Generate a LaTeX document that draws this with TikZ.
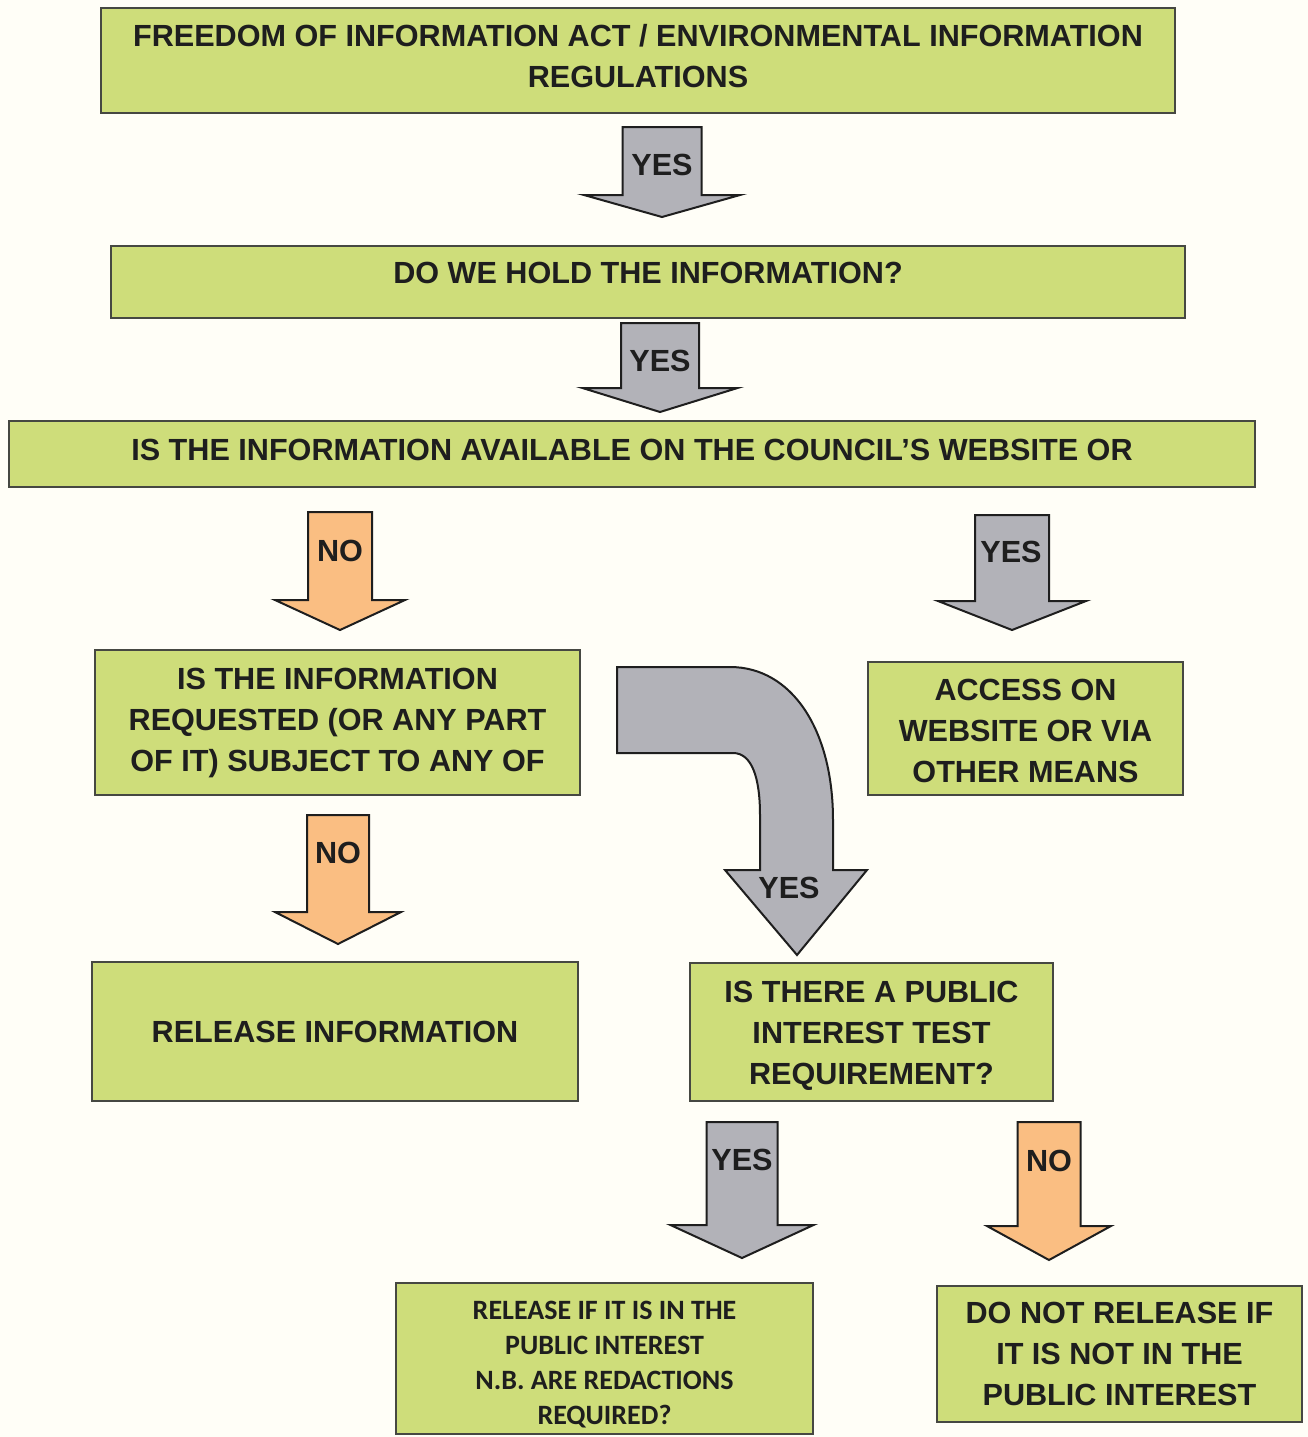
\documentclass[tikz,border=0pt]{standalone}
\usepackage{fontspec}
\setmainfont{Liberation Sans}
\newfontfamily\narrowfont{Carlito}
\usepackage{tikz}
\definecolor{boxgreen}{RGB}{206,221,122}
\definecolor{arrgray}{RGB}{178,178,184}
\definecolor{arrorange}{RGB}{250,190,130}
\definecolor{edgegray}{RGB}{70,72,66}
\definecolor{inkblack}{RGB}{30,30,30}
\definecolor{papercream}{RGB}{255,254,247}

% block arrow: style, x centre, top, shaft half width, head base, head half width, tip
\newcommand{\blockarrow}[7]{%
  \draw[#1] ({#2-#4},#3) -- ({#2+#4},#3) -- ({#2+#4},#5) -- ({#2+#6},#5)
    -- (#2,#7) -- ({#2-#6},#5) -- ({#2-#4},#5) -- cycle;}
% invisible spacers to lift or drop a text inside its box
\newcommand{\liftby}[1]{\rule[-#1]{0pt}{#1}}
\newcommand{\dropby}[1]{\rule{0pt}{#1}}

\begin{document}
\begin{tikzpicture}[x=0.5pt, y=-0.5pt,
    box/.style={rectangle, draw=edgegray, fill=boxgreen, line width=1.2pt, inner sep=0pt,
        align=center, text=inkblack, font=\fontsize{15.3}{20.5}\selectfont\bfseries},
    yesarr/.style={draw=inkblack, fill=arrgray, line width=1pt},
    noarr/.style={draw=inkblack, fill=arrorange, line width=1pt},
    lab/.style={inner sep=0pt, text=inkblack, font=\fontsize{15.3}{18}\selectfont\bfseries}
]
\useasboundingbox (0,0) rectangle (1308,1437);
\fill[papercream] (0,0) rectangle (1308,1437);

\node[box, minimum width=537pt, minimum height=52.5pt] (foi) at (638,60.5)
    {FREEDOM OF INFORMATION ACT / ENVIRONMENTAL INFORMATION\\REGULATIONS\liftby{5pt}};
\node[box, minimum width=537pt, minimum height=36pt] (hold) at (648,282)
    {DO WE HOLD THE INFORMATION?\liftby{9pt}};
\node[box, minimum width=623pt, minimum height=33pt] (web) at (632,454)
    {IS THE INFORMATION AVAILABLE ON THE COUNCIL’S WEBSITE OR\liftby{4pt}};
\node[box, minimum width=242.5pt, minimum height=72.5pt] (subj) at (337.5,722.5)
    {IS THE INFORMATION\\REQUESTED (OR ANY PART\\OF IT) SUBJECT TO ANY OF};
\node[box, minimum width=157.5pt, minimum height=66.5pt] (access) at (1025.5,728.5)
    {\dropby{13pt}ACCESS ON\\WEBSITE OR VIA\\OTHER MEANS};
\node[box, minimum width=243pt, minimum height=69.5pt] (release) at (335,1031.5)
    {RELEASE INFORMATION};
\node[box, minimum width=181.5pt, minimum height=69pt] (pit) at (871.5,1032)
    {\dropby{14pt}IS THERE A PUBLIC\\INTEREST TEST\\REQUIREMENT?};
\node[box, minimum width=208.5pt, minimum height=75.5pt,
    font=\narrowfont\fontsize{14}{17.5}\selectfont\bfseries] (relif) at (604.5,1358.5)
    {\dropby{15.5pt}RELEASE IF IT IS IN THE\\PUBLIC INTEREST\\N.B. ARE REDACTIONS\\REQUIRED?};
\node[box, minimum width=182.5pt, minimum height=68pt] (donot) at (1119.5,1354)
    {DO NOT RELEASE IF\\IT IS NOT IN THE\\PUBLIC INTEREST};

% straight block arrows
\blockarrow{yesarr}{662}{127}{39.5}{195}{78}{217}
\node[lab] (yes1) at (662,165) {YES};
\blockarrow{yesarr}{660}{323}{39}{388}{77.5}{412}
\node[lab] (yes2) at (660,361) {YES};
\blockarrow{noarr}{340}{512}{32}{600}{65}{630}
\node[lab] (no1) at (340,551) {NO};
\blockarrow{yesarr}{1012}{515}{37}{601}{74}{630}
\node[lab] (yes3) at (1011,552) {YES};
\blockarrow{noarr}{338}{815}{31}{912}{63}{944}
\node[lab] (no2) at (338,853) {NO};
\blockarrow{yesarr}{742}{1122}{35.5}{1225}{71.5}{1258}
\node[lab] (yes5) at (742,1160) {YES};
\blockarrow{noarr}{1049}{1122}{31.5}{1226}{62}{1260}
\node[lab] (no3) at (1049,1161) {NO};

% bent arrow
\draw[yesarr] (617,667) -- (730,667) .. controls (792,667) and (833,730) .. (833,820)
    -- (833,870) -- (867,870) -- (797,955) -- (725,870) -- (760,870) -- (760,815)
    .. controls (760,778) and (752,753) .. (733,753) -- (617,753) -- cycle;
\node[lab] (yes4) at (789,888) {YES};
\end{tikzpicture}
\end{document}
